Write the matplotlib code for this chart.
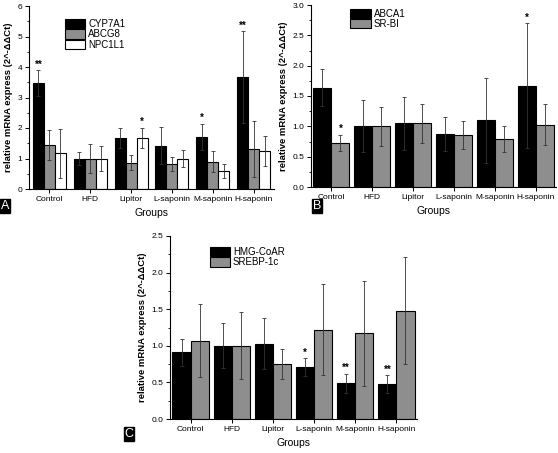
import numpy as np
import matplotlib.pyplot as plt

plt.rcParams['font.family'] = ['Liberation Sans', 'DejaVu Sans']

groups = ['Control', 'HFD', 'Lipitor', 'L-saponin', 'M-saponin', 'H-saponin']

# panel A
cyp7a1 = [3.48, 1.00, 1.68, 1.42, 1.70, 3.67]
cyp7a1_err = [0.42, 0.20, 0.32, 0.61, 0.43, 1.50]
abcg8 = [1.45, 1.00, 0.86, 0.82, 0.90, 1.32]
abcg8_err = [0.50, 0.47, 0.24, 0.22, 0.35, 0.92]
npc1l1 = [1.17, 1.00, 1.67, 1.00, 0.60, 1.25]
npc1l1_err = [0.80, 0.42, 0.33, 0.28, 0.23, 0.48]
stars_a = [(0, 0, '**'), (2, 2, '*'), (4, 0, '*'), (5, 0, '**')]

# panel B
abca1 = [1.64, 1.00, 1.05, 0.88, 1.10, 1.67]
abca1_err = [0.31, 0.43, 0.44, 0.28, 0.70, 1.03]
srbi = [0.73, 1.00, 1.05, 0.86, 0.79, 1.03]
srbi_err = [0.13, 0.32, 0.32, 0.23, 0.22, 0.34]
stars_b = [(0, 1, '*'), (5, 0, '*')]

# panel C
hmgcoar = [0.91, 1.00, 1.03, 0.71, 0.49, 0.48]
hmgcoar_err = [0.18, 0.31, 0.35, 0.12, 0.13, 0.12]
srebp1c = [1.07, 1.00, 0.75, 1.22, 1.17, 1.48]
srebp1c_err = [0.50, 0.46, 0.21, 0.62, 0.72, 0.73]
stars_c = [(3, 0, '*'), (4, 0, '**'), (5, 0, '**')]

BLACK = '#000000'
GRAY = '#8e8e8e'
WHITE = '#ffffff'


def draw_panel(ax, series, names, colors, width, stars, ymax, ystep, leg_pos):
    '''
    Draw one grouped bar panel with error bars and significance marks.
    '''
    x = np.arange(len(groups))
    n = len(series)
    offsets = (np.arange(n) - (n - 1) / 2.) * width
    tops = []
    for (vals, errs), name, col, off in zip(series, names, colors, offsets):
        ax.bar(x + off, vals, width, color=col, edgecolor='black',
               linewidth=0.8, label=name, zorder=2)
        ax.errorbar(x + off, vals, yerr=errs, fmt='none', ecolor='#333333',
                    elinewidth=0.6, capsize=1.5, capthick=0.6, zorder=3)
        tops.append(np.array(vals) + np.array(errs))
    for g, s, txt in stars:
        ax.annotate(txt, (x[g] + offsets[s], tops[s][g]), xytext=(0, 0.5),
                    textcoords='offset points', ha='center', va='bottom',
                    fontsize=7, fontweight='bold')

    ax.set_xlim(-0.5, len(groups) - 0.5)
    ax.set_ylim(0, ymax)
    ax.set_xticks(x)
    ax.set_xticklabels(groups, fontsize=6)
    ticks = np.arange(0, ymax + 1e-9, ystep)
    ax.set_yticks(ticks)
    ax.set_yticks(ticks[:-1] + ystep / 2., minor=True)
    if ystep < 1:
        ax.set_yticklabels(['%.1f' % t for t in ticks], fontsize=6)
    else:
        ax.set_yticklabels(['%d' % t for t in ticks], fontsize=6)
    ax.tick_params(direction='out', length=3, width=0.7, pad=2)
    ax.tick_params(which='minor', direction='out', length=1.5, width=0.6)
    ax.tick_params(axis='x', which='minor', length=0)
    for side in ['top', 'right']:
        ax.spines[side].set_visible(False)
    for side in ['left', 'bottom']:
        ax.spines[side].set_linewidth(0.8)
    ax.set_ylabel('relative mRNA express (2^-ΔΔCt)', fontsize=6.8,
                  fontweight='bold', labelpad=3)
    ax.set_xlabel('Groups', fontsize=7.5, labelpad=4)
    ax.legend(loc='upper left', bbox_to_anchor=leg_pos, frameon=False,
              fontsize=7, handlelength=2.1, handleheight=1.1,
              handletextpad=0.3, labelspacing=0.05, borderpad=0,
              borderaxespad=0)


fig = plt.figure(figsize=(5.58, 4.53), dpi=100)
W, H = 558., 453.
axA = fig.add_axes([29 / W, 1 - 189 / H, 245 / W, 183 / H])
axB = fig.add_axes([311 / W, 1 - 187 / H, 245 / W, 182 / H])
axC = fig.add_axes([170 / W, 1 - 419 / H, 247 / W, 183 / H])

draw_panel(axA, [(cyp7a1, cyp7a1_err), (abcg8, abcg8_err), (npc1l1, npc1l1_err)],
           ['CYP7A1', 'ABCG8', 'NPC1L1'], [BLACK, GRAY, WHITE], 0.27,
           stars_a, 6, 1, (0.147, 0.93))
draw_panel(axB, [(abca1, abca1_err), (srbi, srbi_err)],
           ['ABCA1', 'SR-BI'], [BLACK, GRAY], 0.44,
           stars_b, 3.0, 0.5, (0.16, 0.98))
draw_panel(axC, [(hmgcoar, hmgcoar_err), (srebp1c, srebp1c_err)],
           ['HMG-CoAR', 'SREBP-1c'], [BLACK, GRAY], 0.44,
           stars_c, 2.5, 0.5, (0.16, 0.94))

for lab, px, py in [('A', 5, 206), ('B', 317, 206), ('C', 129, 434)]:
    fig.text(px / W, 1 - py / H, lab, color='white', fontsize=9,
             ha='center', va='center',
             bbox=dict(facecolor='black', edgecolor='black', pad=0.6))

fig.savefig('out.png', dpi=100)
